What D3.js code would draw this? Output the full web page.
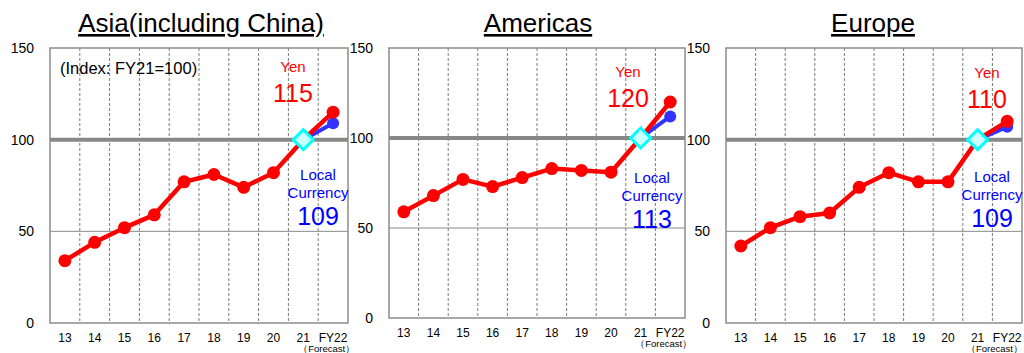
<!DOCTYPE html>
<html>
<head>
<meta charset="utf-8">
<script src="https://cdn.jsdelivr.net/npm/d3@7"></script>
<style>
  body { margin: 0; background: #fff; }
  svg { font-family: "Liberation Sans", Arial, sans-serif; }
</style>
</head>
<body>
<script>
// categories (fiscal years)
var years = ["13", "14", "15", "16", "17", "18", "19", "20", "21", "FY22"];
var regions = ["Asia(including China)", "Americas", "Europe"];

// yen-based index, FY21 = 100
var asiaYen = [34, 44, 52, 59, 77, 81, 74, 82, 100, 115];
var americasYen = [59, 68, 77, 73, 78, 83, 82, 81, 100, 120];
var europeYen = [42, 52, 58, 60, 74, 82, 77, 77, 100, 110];

// local currency, only FY21 -> FY22
var asiaLocal = [100, 109];
var americasLocal = [100, 112];
var europeLocal = [100, 107];

// numbers shown in the labels
var yenLabels = ["115", "120", "110"];
var localLabels = ["109", "113", "109"];

var yTicks = [0, 50, 100, 150];

var panels = [
  { title: regions[0], yen: asiaYen, local: asiaLocal, x0: 50, x1: 348, top: 48, bottom: 323, yenX: 293, yenY: 67, locX: 318, locY: 175, titleX: 201 },
  { title: regions[1], yen: americasYen, local: americasLocal, x0: 389, x1: 685, top: 48, bottom: 318, yenX: 628, yenY: 72, locX: 652, locY: 178, titleX: 538 },
  { title: regions[2], yen: europeYen, local: europeLocal, x0: 726, x1: 1022, top: 48, bottom: 323, yenX: 987, yenY: 73, locX: 992, locY: 177, titleX: 873 }
];

var svg = d3.select("body").append("svg")
    .attr("width", 1024)
    .attr("height", 353);

panels.forEach(function(p, pi) {
  var g = svg.append("g");

  var x = d3.scaleBand().domain(years).range([p.x0, p.x1]);
  var y = d3.scaleLinear().domain([0, 150]).range([p.bottom, p.top]);
  var mid = function(d) { return x(d) + x.bandwidth() / 2; };

  // title
  g.append("text")
      .attr("x", p.titleX)
      .attr("y", 32)
      .attr("text-anchor", "middle")
      .attr("font-size", 26)
      .attr("text-decoration", "underline")
      .attr("fill", "#000")
      .text(p.title);

  // dashed category separators
  g.selectAll(".sep")
    .data(years.slice(1))
    .enter().append("line")
      .attr("x1", function(d) { return x(d); })
      .attr("x2", function(d) { return x(d); })
      .attr("y1", p.top)
      .attr("y2", p.bottom)
      .attr("stroke", "#7a7a7a")
      .attr("stroke-width", 1)
      .attr("stroke-dasharray", "3,2");

  // 50 gridline
  g.append("line")
      .attr("x1", p.x0).attr("x2", p.x1)
      .attr("y1", y(50)).attr("y2", y(50))
      .attr("stroke", "#8a8a8a")
      .attr("stroke-width", 1);

  // frame
  g.append("rect")
      .attr("x", p.x0).attr("y", p.top)
      .attr("width", p.x1 - p.x0).attr("height", p.bottom - p.top)
      .attr("fill", "none")
      .attr("stroke", "#8c8c8c")
      .attr("stroke-width", 1.5);

  // base line at 100
  g.append("line")
      .attr("x1", p.x0).attr("x2", p.x1)
      .attr("y1", y(100)).attr("y2", y(100))
      .attr("stroke", "#878787")
      .attr("stroke-width", 4);

  // y axis labels
  g.selectAll(".ytick")
    .data(yTicks)
    .enter().append("text")
      .attr("x", p.x0 - 16)
      .attr("y", function(d) { return y(d); })
      .attr("dy", "0.35em")
      .attr("text-anchor", "end")
      .attr("font-size", 14)
      .attr("fill", "#000")
      .text(function(d) { return d; });

  // x axis labels
  g.selectAll(".xtick")
    .data(years)
    .enter().append("text")
      .attr("x", mid)
      .attr("y", p.bottom + 19)
      .attr("text-anchor", "middle")
      .attr("font-size", 12)
      .attr("fill", "#000")
      .text(function(d) { return d; });

  g.append("text")
      .attr("x", pi == 2 ? 1023 : mid("FY22") + 22)
      .attr("y", p.bottom + 29)
      .attr("text-anchor", "end")
      .attr("font-size", 9.5)
      .attr("fill", "#000")
      .text("（Forecast）");

  // local currency line
  var localYears = years.slice(-2);
  var lineLocal = d3.line()
      .x(function(d, i) { return mid(localYears[i]); })
      .y(function(d) { return y(d); });
  g.append("path")
      .datum(p.local)
      .attr("d", lineLocal)
      .attr("fill", "none")
      .attr("stroke", "#3333ff")
      .attr("stroke-width", 4);
  g.append("circle")
      .attr("cx", mid("FY22"))
      .attr("cy", y(p.local[1]))
      .attr("r", 6)
      .attr("fill", "#3333ff");

  // yen line
  var yenPts = p.yen.map(function(d, i) { return { year: years[i], value: d }; });
  var lineYen = d3.line()
      .x(function(d) { return mid(d.year); })
      .y(function(d) { return y(d.value); });
  g.append("path")
      .datum(yenPts)
      .attr("d", lineYen)
      .attr("fill", "none")
      .attr("stroke", "#ff0000")
      .attr("stroke-width", 4.5)
      .attr("stroke-linejoin", "round");
  g.selectAll(".pt")
    .data(yenPts.filter(function(d) { return d.year != "21"; }))
    .enter().append("circle")
      .attr("cx", function(d) { return mid(d.year); })
      .attr("cy", function(d) { return y(d.value); })
      .attr("r", 6.5)
      .attr("fill", "#ff0000");

  // FY21 diamond
  g.append("path")
      .attr("d", d3.symbol().type(d3.symbolSquare).size(200))
      .attr("transform", "translate(" + mid("21") + "," + y(100) + ") rotate(45)")
      .attr("fill", "#ccffff")
      .attr("stroke", "#00ffff")
      .attr("stroke-width", 3);

  // labels
  g.append("text")
      .attr("x", p.yenX).attr("y", p.yenY)
      .attr("dy", "0.35em")
      .attr("text-anchor", "middle")
      .attr("font-size", 15)
      .attr("fill", "#ff0000")
      .text("Yen");
  g.append("text")
      .attr("x", p.yenX).attr("y", p.yenY + 26)
      .attr("dy", "0.35em")
      .attr("text-anchor", "middle")
      .attr("font-size", 25)
      .attr("fill", "#ff0000")
      .text(yenLabels[pi]);

  g.append("text")
      .attr("x", p.locX).attr("y", p.locY)
      .attr("dy", "0.35em")
      .attr("text-anchor", "middle")
      .attr("font-size", 15)
      .attr("fill", "#0000ff")
      .text("Local");
  g.append("text")
      .attr("x", p.locX).attr("y", p.locY + 18)
      .attr("dy", "0.35em")
      .attr("text-anchor", "middle")
      .attr("font-size", 15)
      .attr("fill", "#0000ff")
      .text("Currency");
  g.append("text")
      .attr("x", p.locX).attr("y", p.locY + 41)
      .attr("dy", "0.35em")
      .attr("text-anchor", "middle")
      .attr("font-size", 25)
      .attr("fill", "#0000ff")
      .text(localLabels[pi]);

  if (pi == 0) {
    g.append("text")
        .attr("x", 60).attr("y", 68)
        .attr("dy", "0.35em")
        .attr("font-size", 16.5)
        .attr("fill", "#000")
        .text("(Index: FY21=100)");
  }
});
</script>
</body>
</html>
